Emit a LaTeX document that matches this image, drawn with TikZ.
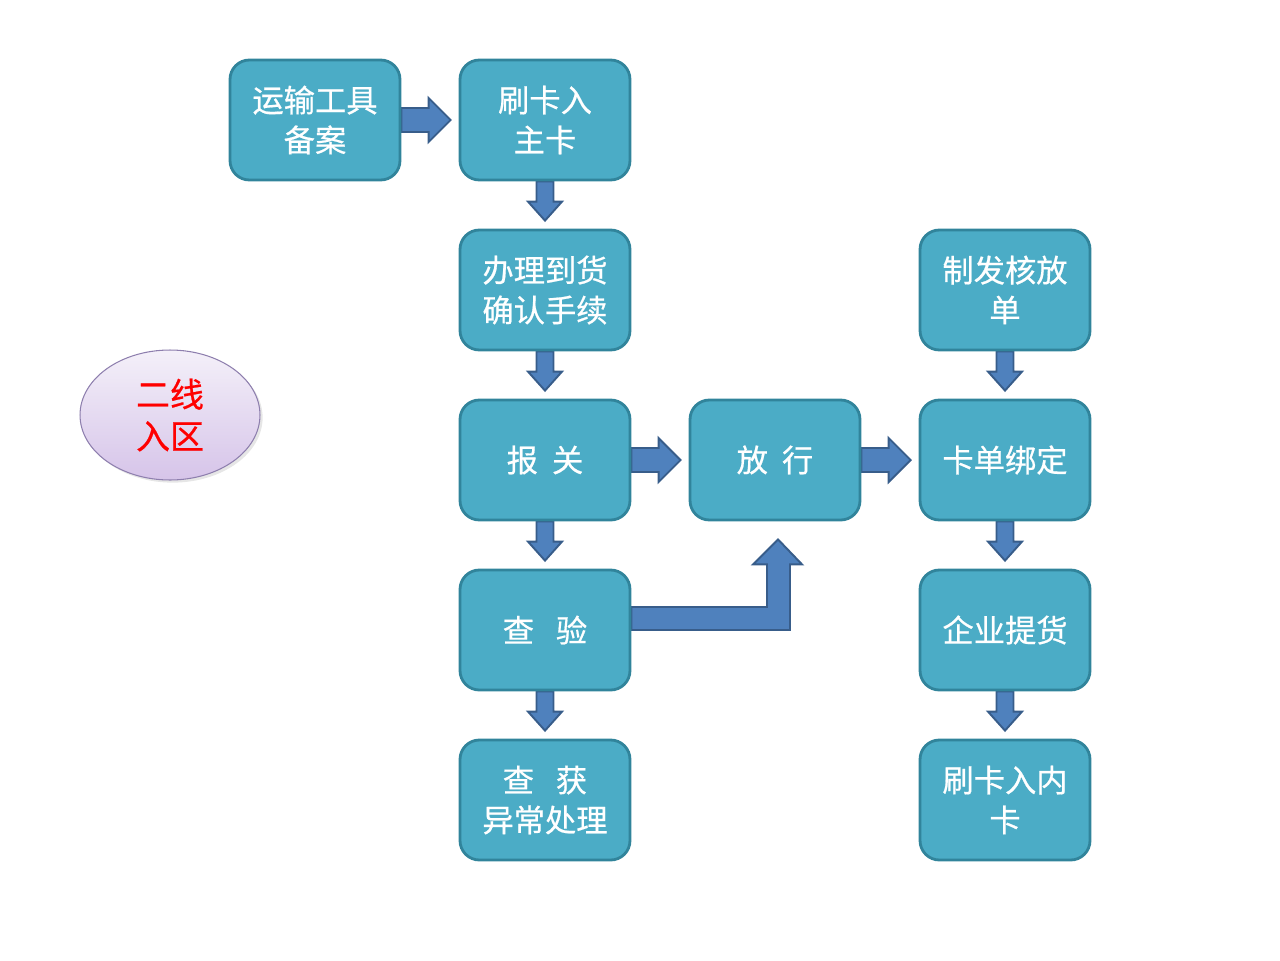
\documentclass[tikz,border=0pt]{standalone}
\usepackage{fontspec}
\newfontfamily\cjk[FakeBold=0.6]{Noto Sans CJK SC}
\usetikzlibrary{calc,backgrounds,shapes.geometric,shadows}
\definecolor{boxfill}{HTML}{4BACC6}
\definecolor{boxline}{HTML}{31849B}
\definecolor{arrowfill}{HTML}{4F81BD}
\definecolor{arrowline}{HTML}{385D8A}
\definecolor{zonetop}{HTML}{F4F0F9}
\definecolor{zonebottom}{HTML}{D6C4E9}
\definecolor{zoneline}{HTML}{8E7FAE}
\tikzset{
  flowbox/.style={draw=boxline, line width=1.6pt, fill=boxfill, rounded corners=11pt,
    minimum width=3.4cm, minimum height=2.4cm, align=center, text=white,
    font=\cjk\fontsize{17.8}{22.7}\selectfont},
  zonebox/.style={ellipse, draw=zoneline, line width=0.6pt, top color=zonetop, bottom color=zonebottom,
    minimum width=3.6cm, minimum height=2.6cm, inner sep=0pt, align=center, text=red,
    font=\cjk\fontsize{19.3}{23.8}\selectfont,
    drop shadow={opacity=0.2, shadow xshift=1.5pt, shadow yshift=-1.5pt}},
  blockarrow/.style={draw=arrowline, line width=1.1pt, fill=arrowfill, line join=miter},
}
% block arrows, lengths in pixels of the picture
\newcommand{\hblock}[2]{\draw[blockarrow] ($(#1.east)+(0,-12)$) -- ($(#2.west)+(-30,-12)$)
  -- ($(#2.west)+(-30,-22)$) -- ($(#2.west)+(-8,0)$) -- ($(#2.west)+(-30,22)$)
  -- ($(#2.west)+(-30,12)$) -- ($(#1.east)+(0,12)$) -- cycle;}
\newcommand{\vblock}[2]{\draw[blockarrow] ($(#1.south)+(-8.5,0)$) -- ($(#2.north)+(-8.5,-27)$)
  -- ($(#2.north)+(-17,-27)$) -- ($(#2.north)+(0,-8)$) -- ($(#2.north)+(17,-27)$)
  -- ($(#2.north)+(8.5,-27)$) -- ($(#1.south)+(8.5,0)$) -- cycle;}
\begin{document}
\begin{tikzpicture}[x=0.02cm, y=-0.02cm]
	\useasboundingbox (0,0) rectangle (1280,960);
	\node [zonebox] (zone) at (170,415) {二线\\入区};
	% left column
	\node [flowbox] (transport) at (315,120) {运输工具\\备案};
	\node [flowbox] (maincard) at (545,120) {刷卡入\\主卡};
	\node [flowbox] (confirm) at (545,290) {办理到货\\确认手续};
	\node [flowbox] (declare) at (545,460) {报\hspace{0.45em}关};
	\node [flowbox] (inspect) at (545,630) {查\hspace{0.7em}验};
	\node [flowbox] (seize) at (545,800) {查\hspace{0.7em}获\\异常处理};
	% middle and right column
	\node [flowbox] (release) at (775,460) {放\hspace{0.45em}行};
	\node [flowbox] (issue) at (1005,290) {制发核放\\单};
	\node [flowbox] (bind) at (1005,460) {卡单绑定};
	\node [flowbox] (pickup) at (1005,630) {企业提货};
	\node [flowbox] (innercard) at (1005,800) {刷卡入内\\卡};
	\begin{scope}[on background layer]
		\foreach \a/\b in {transport/maincard, declare/release, release/bind}
		\hblock{\a}{\b};
		\foreach \a/\b in {maincard/confirm, confirm/declare, declare/inspect, inspect/seize,
			issue/bind, bind/pickup, pickup/innercard}
		\vblock{\a}{\b};
		% elbow arrow up to release
		\draw [blockarrow] ($(inspect.east)+(0,-23)$) -| ($(release.south)+(-8,43)$)
			-- ($(release.south)+(-22,43)$) -- ($(release.south)+(3,18)$)
			-- ($(release.south)+(27,43)$) -- ($(release.south)+(15,43)$)
			|- (inspect.east) -- cycle;
	\end{scope}
\end{tikzpicture}
\end{document}
